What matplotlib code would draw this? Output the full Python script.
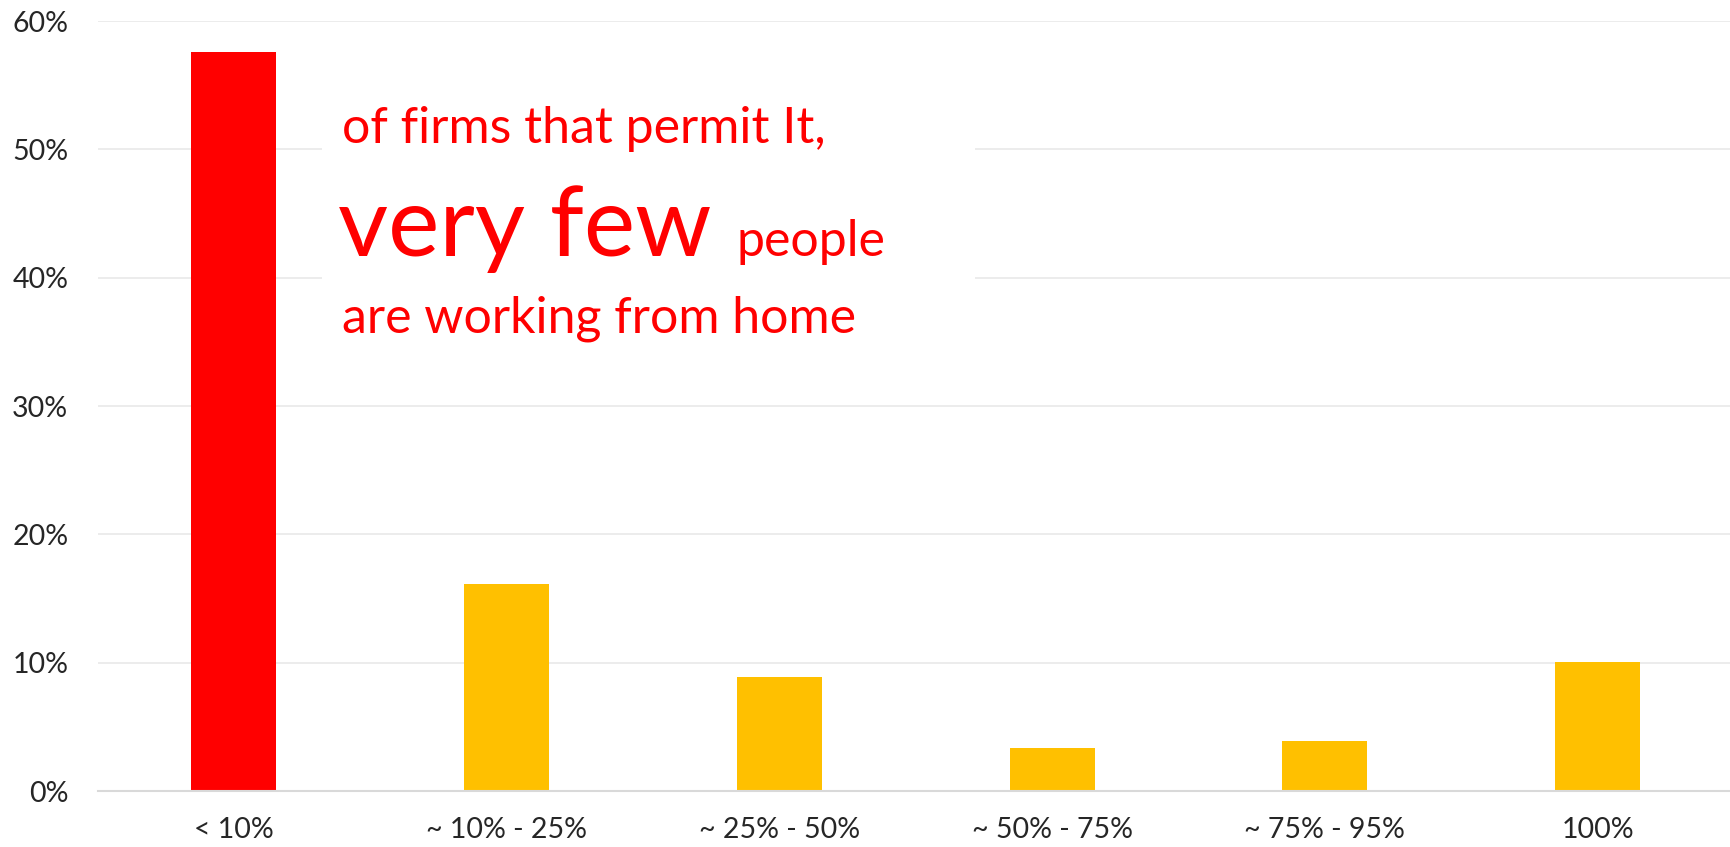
import matplotlib.pyplot as plt
from matplotlib.patches import Rectangle

categories = ["< 10%", "~ 10% - 25%", "~ 25% - 50%", "~ 50% - 75%", "~ 75% - 95%", "100%"]
shares = [57.6, 16.1, 8.9, 3.35, 3.9, 10.05]
bar_colors = ["#FF0000", "#FFC000", "#FFC000", "#FFC000", "#FFC000", "#FFC000"]
yticks = [0, 10, 20, 30, 40, 50, 60]

W, H = 1730, 847
plt.rcParams['font.family'] = ['Lato', 'DejaVu Sans']

fig = plt.figure(figsize=(W / 100, H / 100), dpi=100)
ax = fig.add_axes([97.5 / W, 1 - 791 / H, (1734 - 97.5) / W, (791 - 21) / H])

x = range(len(categories))
ax.bar(x, shares, width=0.3125, color=bar_colors, zorder=2)

ax.set_xlim(-0.5, len(categories) - 0.5)
ax.set_ylim(0, 60)
ax.set_yticks(yticks)
ax.set_yticklabels([f"{v}%" for v in yticks], fontsize=20.5, color="#262626")
ax.set_xticks(list(x))
ax.set_xticklabels(categories, fontsize=20.5, color="#262626")
ax.tick_params(length=0)
ax.tick_params(axis='y', pad=21)
ax.tick_params(axis='x', pad=19)

ax.yaxis.grid(True, color="#ebebeb", linewidth=1.3, zorder=0)
for s in ["top", "right", "left"]:
    ax.spines[s].set_visible(False)
ax.spines["bottom"].set_color("#d9d9d9")
ax.spines["bottom"].set_linewidth(1.5)

# white box behind the annotation, hides the gridlines
fig.patches.append(Rectangle((322 / W, 1 - 375 / H), (975 - 322) / W, (375 - 75) / H,
                             transform=fig.transFigure, facecolor="white",
                             edgecolor="none", zorder=1))

red = "#FF0000"
fig.text(342 / W, 1 - 143 / H, "of firms that permit It,", fontsize=36, color=red, va='baseline')
fig.text(338 / W, 1 - 256 / H, "very few", fontsize=70, color=red, va='baseline')
fig.text(736 / W, 1 - 256 / H, "people", fontsize=36, color=red, va='baseline')
fig.text(342 / W, 1 - 332 / H, "are working from home", fontsize=36, color=red, va='baseline')

fig.savefig("out.png", dpi=100)
